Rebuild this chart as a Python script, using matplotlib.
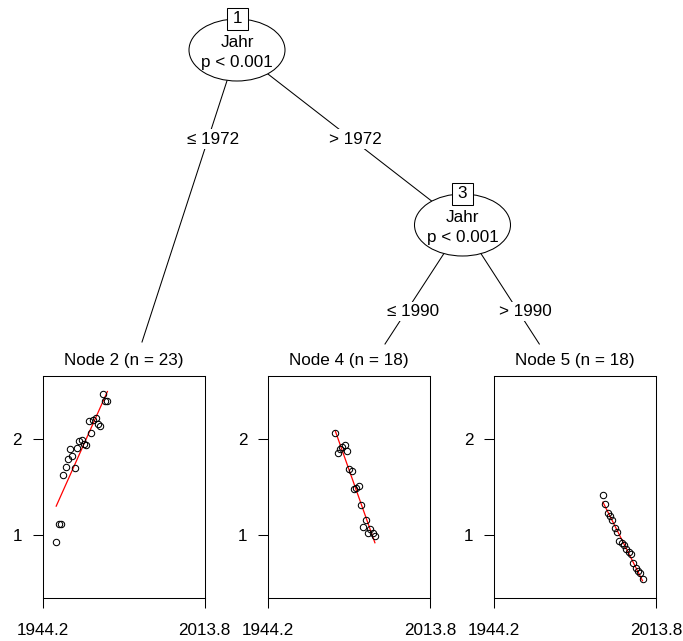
import numpy as np
import matplotlib
matplotlib.use("Agg")
import matplotlib.pyplot as plt
from matplotlib.patches import Ellipse, Rectangle

plt.rcParams['font.family'] = ['Liberation Sans', 'DejaVu Sans']

# --- Daten ---
jahr_node2 = [1950, 1951, 1952, 1953, 1954, 1955, 1956, 1957, 1958, 1959, 1960, 1961,
              1962, 1963, 1964, 1965, 1966, 1967, 1968, 1969, 1970, 1971, 1972]
wert_node2 = [0.93, 1.11, 1.11, 1.62, 1.70, 1.79, 1.89, 1.82, 1.69, 1.90, 1.97, 1.98,
              1.94, 1.93, 2.18, 2.06, 2.19, 2.21, 2.15, 2.13, 2.46, 2.39, 2.39]

jahr_node4 = [1973, 1974, 1975, 1976, 1977, 1978, 1979, 1980, 1981, 1982, 1983, 1984,
              1985, 1986, 1987, 1988, 1989, 1990]
wert_node4 = [2.06, 1.85, 1.89, 1.91, 1.93, 1.87, 1.68, 1.66, 1.48, 1.49, 1.51, 1.31,
              1.08, 1.15, 1.02, 1.06, 1.02, 0.99]

jahr_node5 = [1991, 1992, 1993, 1994, 1995, 1996, 1997, 1998, 1999, 2000, 2001, 2002,
              2003, 2004, 2005, 2006, 2007, 2008]
wert_node5 = [1.41, 1.32, 1.23, 1.20, 1.15, 1.07, 1.03, 0.94, 0.92, 0.89, 0.85, 0.82,
              0.80, 0.71, 0.66, 0.63, 0.60, 0.54]

node_ids = [2, 4, 5]
split_labels = ["\u2264 1972", "> 1972", "\u2264 1990", "> 1990"]

nodes = [(jahr_node2, wert_node2), (jahr_node4, wert_node4), (jahr_node5, wert_node5)]

W, H = 683, 641
FS = 12.3
fig = plt.figure(figsize=(W / 100, H / 100), dpi=100)

# --- Baum (Pixelkoordinaten) ---
tree = fig.add_axes([0, 0, 1, 1])
tree.set_xlim(0, W)
tree.set_ylim(H, 0)
tree.axis("off")

n1 = (237, 50)
n3 = (462.5, 225)
edges = [(n1, (142, 342)), (n1, n3), (n3, (385, 344)), (n3, (539.3, 344))]
label_pos = [(213, 139), (355, 139), (413, 311.5), (525, 311.5)]
for (p, q), lab, (lx, ly) in zip(edges, split_labels, label_pos):
    tree.plot([p[0], q[0]], [p[1], q[1]], color="black", lw=0.75, zorder=1)
    tree.text(lx, ly, lab, ha="center", va="center", fontsize=FS, zorder=3,
              bbox=dict(facecolor="white", edgecolor="none", pad=1.5))

for (cx, cy), nid in [(n1, 1), (n3, 3)]:
    tree.add_patch(Ellipse((cx, cy), 96, 62, facecolor="white", edgecolor="black",
                           lw=0.75, zorder=4))
    tree.text(cx, cy - 7.5, "Jahr", ha="center", va="center", fontsize=FS, zorder=5)
    tree.text(cx, cy + 12.5, "p < 0.001", ha="center", va="center", fontsize=FS, zorder=5)
    tree.add_patch(Rectangle((cx - 10.5, cy - 42.5), 21, 22, facecolor="white",
                             edgecolor="black", lw=0.75, zorder=6))
    tree.text(cx, cy - 31.5, str(nid), ha="center", va="center", fontsize=FS, zorder=7)

# --- Endknoten ---
alle_jahre = np.concatenate([jahr_node2, jahr_node4, jahr_node5])
alle_werte = np.concatenate([wert_node2, wert_node4, wert_node5])
xr = alle_jahre.max() - alle_jahre.min()
yr = alle_werte.max() - alle_werte.min()
xlim = (alle_jahre.min() - 0.1 * xr, alle_jahre.max() + 0.1 * xr)
ylim = (alle_werte.min() - 0.1 * yr, alle_werte.max() + 0.1 * yr)

panel_left = [42.7, 268.3, 494]
pw, ph = 162, 222
p_top = 375.7
for left, nid, (x, y) in zip(panel_left, node_ids, nodes):
    ax = fig.add_axes([left / W, (H - p_top - ph) / H, pw / W, ph / H])
    ax.plot(x, y, "o", mfc="none", mec="black", ms=4.6, mew=0.75, zorder=3)
    k, d = np.polyfit(x, y, 1)
    xs = np.array([min(x), max(x)])
    ax.plot(xs, k * xs + d, color="red", lw=0.9, zorder=2)
    ax.set_xlim(xlim)
    ax.set_ylim(ylim)
    ax.set_xticks(list(xlim))
    ax.set_xticklabels([f"{v:.1f}" for v in xlim])
    ax.set_yticks([1, 2])
    ax.set_yticklabels(["1", "2"])
    ax.tick_params(axis="x", direction="out", length=7.5, width=0.75, pad=11,
                   labelsize=FS)
    ax.tick_params(axis="y", direction="out", length=7.5, width=0.75, pad=7.5,
                   labelsize=FS)
    for s in ax.spines.values():
        s.set_linewidth(0.75)
    ax.text(0.5, 1 + 15 / ph, f"Node {nid} (n = {len(x)})", transform=ax.transAxes,
            ha="center", va="center", fontsize=FS)

fig.savefig("out.png", dpi=100)
